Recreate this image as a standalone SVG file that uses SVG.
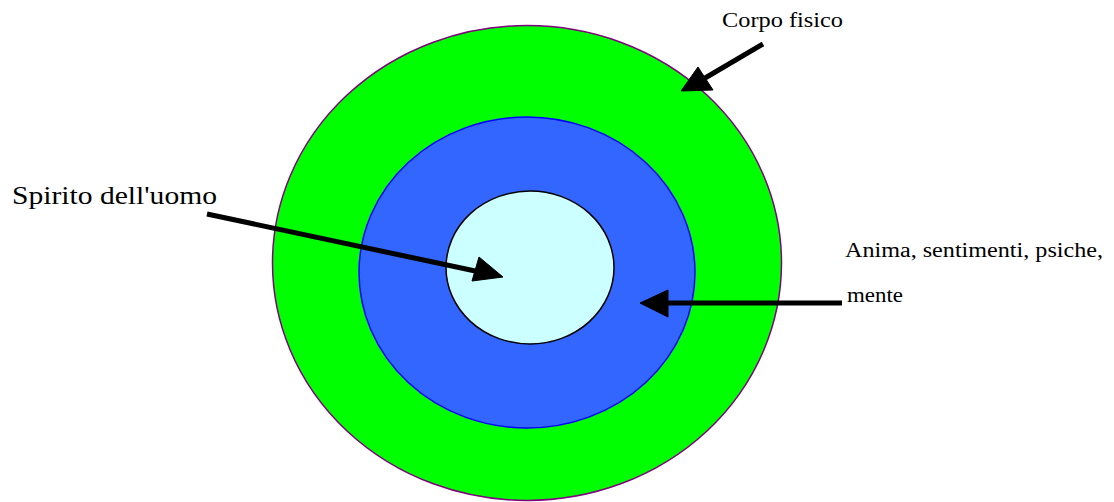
<svg xmlns="http://www.w3.org/2000/svg" width="1114" height="502" viewBox="0 0 1114 502">
<style>
.lbl{font-family:"Liberation Serif","DejaVu Serif",serif;fill:#000}
.conn line{stroke:#000;stroke-width:5;stroke-linecap:butt}
.conn polygon{fill:#000;stroke:#000;stroke-width:1}
</style>
<rect width="1114" height="502" fill="#fff"/>
<g id="corpo-fisico">
<ellipse cx="527" cy="263" rx="254.5" ry="237.5" fill="#00ff00" stroke="#800080" stroke-width="1.5"/>
</g>
<g id="anima">
<ellipse cx="527" cy="272.5" rx="168" ry="155.5" fill="#3366ff" stroke="#0000ff" stroke-width="1.5"/>
</g>
<g id="spirito">
<ellipse cx="530" cy="267.5" rx="84" ry="76.5" fill="#ccffff" stroke="#000" stroke-width="1.5"/>
</g>
<g id="label-corpo">
<text class="lbl" x="722" y="27" font-size="22" textLength="121" lengthAdjust="spacingAndGlyphs">Corpo fisico</text>
</g>
<g id="label-spirito">
<text class="lbl" x="12" y="204" font-size="26" textLength="205" lengthAdjust="spacingAndGlyphs">Spirito dell'uomo</text>
</g>
<g id="label-anima">
<text class="lbl" x="845" y="257" font-size="20" textLength="258" lengthAdjust="spacingAndGlyphs">Anima, sentimenti, psiche,</text>
<text class="lbl" x="847" y="302" font-size="20" textLength="56" lengthAdjust="spacingAndGlyphs">mente</text>
</g>
<g id="connectors" class="conn">
<line x1="763" y1="44" x2="700" y2="81"/>
<polygon points="681,91 698,67 713,90"/>
<line x1="207" y1="214" x2="480" y2="272"/>
<polygon points="503,277 479,257 472,281"/>
<line x1="842" y1="303" x2="662" y2="303"/>
<polygon points="640,303 668,290 668,317"/>
</g>
</svg>
